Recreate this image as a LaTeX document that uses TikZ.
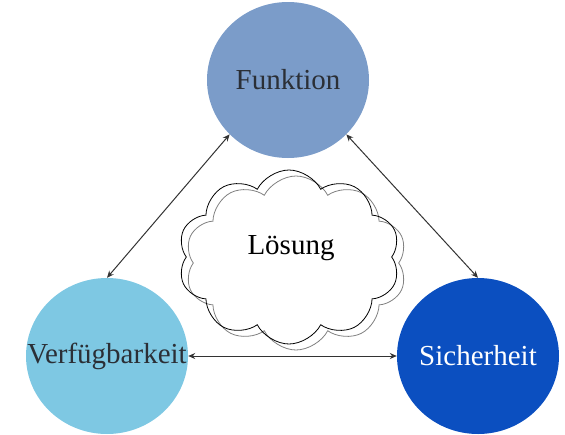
\documentclass[tikz,border=0pt]{standalone}
\usepackage{fontspec}
\setmainfont{Liberation Serif}
\usetikzlibrary{positioning,arrows.meta,shapes.geometric,shapes.symbols}

\definecolor{funkblue}{HTML}{7B9CC9}
\definecolor{verfblue}{HTML}{7EC8E3}
\definecolor{sichblue}{HTML}{0B4FC0}
\definecolor{txtdark}{HTML}{2B2F36}
\definecolor{arrgray}{HTML}{333333}

\begin{document}
\begin{tikzpicture}[
  x=1pt, y=-1pt,
  font=\fontsize{29}{32}\selectfont,
  ball/.style={ellipse, minimum width=162pt, minimum height=156pt, inner sep=0pt},
  puff/.style={cloud, cloud puffs=10, cloud puff arc=125, aspect=1.3,
    minimum width=222pt, minimum height=174pt, inner sep=0pt},
  arr/.style={{Stealth[length=7pt,width=6pt]}-{Stealth[length=7pt,width=6pt]}, draw=arrgray, line width=1pt},
]
  \useasboundingbox (0,0) rectangle (565,434);
  \node[ball, fill=funkblue, label={[text=txtdark]center:Funktion}] (funk) at (288,80) {};
  \node[ball, fill=verfblue, label={[text=txtdark]center:Verfügbarkeit}] (verf) at (107,356) {};
  \node[ball, fill=sichblue, label={[text=white]center:Sicherheit}] (sich) at (478,356) {};
  % cloud with a shifted grey outline
  \node[puff, draw=gray, line width=0.8pt] (shade) at (296,263) {};
  \node[puff, draw=black, line width=0.8pt] (loes) at (289,257) {};
  \node (ltext) at (291,248) {Lösung};
  \draw[arr] (funk.223) -- (verf.north);
  \draw[arr] (funk.-43) -- (sich.north);
  \draw[arr] (verf.east) -- (sich.west);
\end{tikzpicture}
\end{document}
